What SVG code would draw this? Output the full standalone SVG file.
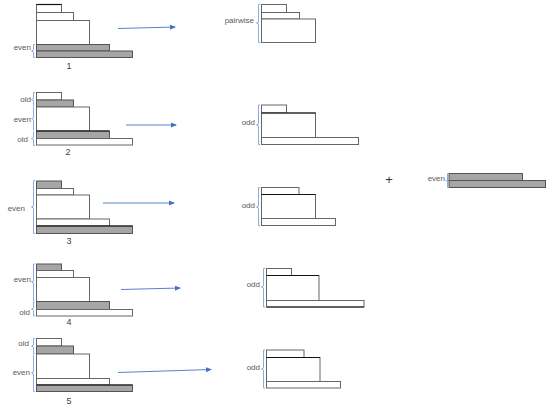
<svg xmlns="http://www.w3.org/2000/svg" width="554" height="412" viewBox="0 0 554 412">
<style>
.w{fill:#fff;stroke:#666;stroke-width:1}
.g{fill:#a6a6a6;stroke:#555;stroke-width:1}
.k{stroke:#111;stroke-width:1.2;fill:none}
.br{fill:none;stroke:#8faadc;stroke-width:1}
.t{font-family:"Liberation Sans",Arial,sans-serif;font-size:8px;fill:#595959}
.n{font-family:"Liberation Sans",Arial,sans-serif;font-size:9px;fill:#404040;text-anchor:middle}
.ar{stroke:#4472c4;stroke-width:0.9;fill:none;marker-end:url(#ah)}
</style>
<defs>
<marker id="ah" viewBox="0 0 6 6" refX="5" refY="3" markerWidth="6" markerHeight="6" markerUnits="userSpaceOnUse" orient="auto">
<path d="M0,0.5 L6,3 L0,5.5 Z" fill="#4472c4"/>
</marker>
</defs>

<g id="stack1">
<rect class="w" x="36.5" y="4.5" width="25" height="8"/>
<rect class="w" x="36.5" y="12.5" width="37" height="8"/>
<rect class="w" x="36.5" y="20.5" width="53" height="24"/>
<rect class="g" x="36.5" y="44.5" width="73" height="6.5"/>
<rect class="g" x="36.5" y="51" width="96" height="6.5"/>
<path class="k" d="M36.5,4.5 H61.5"/>
<path class="br" d="M35,44.5 H33.5 V50 L31.5,51 L33.5,52 V57.5 H35"/>
<text class="t" x="31" y="49.5" text-anchor="end">even</text>
<text class="n" x="69" y="69">1</text>
</g>

<g id="stack2">
<rect class="w" x="36.5" y="92.5" width="25" height="7.5"/>
<rect class="g" x="36.5" y="100" width="37" height="7"/>
<rect class="w" x="36.5" y="107" width="53" height="24"/>
<rect class="g" x="36.5" y="131" width="73" height="7.5"/>
<rect class="w" x="36.5" y="138.5" width="96" height="6.5"/>
<path class="k" d="M36.5,131 H109.5"/>
<path class="br" d="M35,92.5 H33.5 V98.5 L31.5,99.5 L33.5,100.5 V106.5 M33.5,107 V117.5 L31.5,118.5 L33.5,119.5 V130.5 M33.5,131.5 V137.5 L31.5,138.5 L33.5,139.5 V145.5 H35"/>
<text class="t" x="31" y="101.5" text-anchor="end">old</text>
<text class="t" x="31" y="121.5" text-anchor="end">even</text>
<text class="t" x="28" y="142" text-anchor="end">old</text>
<text class="n" x="68" y="155">2</text>
</g>

<g id="stack3">
<rect class="g" x="36.5" y="181" width="25" height="7.5"/>
<rect class="w" x="36.5" y="188.5" width="37" height="6.5"/>
<rect class="w" x="36.5" y="195" width="53" height="24"/>
<rect class="w" x="36.5" y="219" width="73" height="7"/>
<rect class="g" x="36.5" y="226" width="96" height="7.5"/>
<path class="k" d="M36.5,226 H132.5"/>
<path class="br" d="M35,180.5 H33.5 V206 L31.5,207 L33.5,208 V233.5 H35"/>
<text class="t" x="25" y="211" text-anchor="end">even</text>
<text class="n" x="69" y="244">3</text>
</g>

<g id="stack4">
<rect class="g" x="36.5" y="264" width="25" height="6.5"/>
<rect class="w" x="36.5" y="270.5" width="37" height="7"/>
<rect class="w" x="36.5" y="277.5" width="53" height="24"/>
<rect class="g" x="36.5" y="301.5" width="73" height="8"/>
<rect class="w" x="36.5" y="309.5" width="96" height="6.5"/>
<path class="br" d="M35,264 H33.5 V281 L31.5,282 L33.5,283 V301 M35,302 H33.5 V308 L31.5,309 L33.5,310 V316 H35"/>
<text class="t" x="31" y="282" text-anchor="end">even</text>
<text class="t" x="30" y="315" text-anchor="end">old</text>
<text class="n" x="69" y="325">4</text>
</g>

<g id="stack5">
<rect class="w" x="36.5" y="338.5" width="25" height="7.5"/>
<rect class="g" x="36.5" y="346" width="37" height="8"/>
<rect class="w" x="36.5" y="354" width="53" height="24.5"/>
<rect class="w" x="36.5" y="378.5" width="73" height="6.5"/>
<rect class="g" x="36.5" y="385" width="96" height="6.5"/>
<path class="k" d="M36.5,385 H132.5"/>
<path class="br" d="M35,338.5 H33.5 V345 L31.5,346 L33.5,347 V353.5 H35 M33.5,354.5 V372 L31.5,373 L33.5,374 V391.5 H35"/>
<text class="t" x="29" y="346" text-anchor="end">old</text>
<text class="t" x="30" y="375" text-anchor="end">even</text>
<text class="n" x="69" y="404">5</text>
</g>

<g id="result1">
<rect class="w" x="261.5" y="4.5" width="25" height="8"/>
<rect class="w" x="261.5" y="12.5" width="38" height="6.5"/>
<rect class="w" x="261.5" y="19" width="54" height="23.5"/>
<path class="br" d="M260,4.5 H258.5 V22 L256.5,23 L258.5,24 V42.5 H260"/>
<text class="t" x="254" y="23" text-anchor="end">pairwise</text>
</g>

<g id="result2">
<rect class="w" x="261.5" y="105" width="25" height="8"/>
<rect class="w" x="261.5" y="113" width="54" height="24.5"/>
<rect class="w" x="261.5" y="137.5" width="97" height="7"/>
<path class="k" d="M261.5,113 H315.5"/>
<path class="br" d="M260,105 H258.5 V124 L256.5,125 L258.5,126 V144.5 H260"/>
<text class="t" x="255" y="125" text-anchor="end">odd</text>
</g>

<g id="result3">
<rect class="w" x="261.5" y="187.5" width="37.5" height="7"/>
<rect class="w" x="261.5" y="194.5" width="54" height="24"/>
<rect class="w" x="261.5" y="218.5" width="74" height="7"/>
<path class="k" d="M261.5,194.5 H315.5"/>
<path class="br" d="M260,187.5 H258.5 V206 L256.5,207 L258.5,208 V225.5 H260"/>
<text class="t" x="255" y="208" text-anchor="end">odd</text>
</g>

<g id="result4">
<rect class="w" x="266.5" y="268.5" width="25" height="7"/>
<rect class="w" x="266.5" y="275.5" width="52.5" height="25"/>
<rect class="w" x="266.5" y="300.5" width="97.5" height="6.5"/>
<path class="k" d="M266.5,275.5 H319 M266.5,307 H364"/>
<path class="br" d="M265,268.5 H263.5 V286 L261.5,287 L263.5,288 V307 H265"/>
<text class="t" x="260" y="287" text-anchor="end">odd</text>
</g>

<g id="result5">
<rect class="w" x="266.5" y="350" width="37.5" height="7.5"/>
<rect class="w" x="266.5" y="357.5" width="53.5" height="24"/>
<rect class="w" x="266.5" y="381.5" width="74" height="6.5"/>
<path class="k" d="M266.5,357.5 H320"/>
<path class="br" d="M265,350 H263.5 V368 L261.5,369 L263.5,370 V388 H265"/>
<text class="t" x="260" y="370" text-anchor="end">odd</text>
</g>

<g id="plus">
<text x="389" y="184" font-family="Liberation Sans,Arial,sans-serif" font-size="13" fill="#333" text-anchor="middle">+</text>
</g>

<g id="evenpair">
<rect class="g" x="449" y="173.5" width="73.5" height="7"/>
<rect class="g" x="449" y="180.5" width="96.5" height="7"/>
<path class="br" d="M449,173.5 H447.5 V187.5 H449 M447.5,180 L445.5,181"/>
<text class="t" x="445" y="181" text-anchor="end">even</text>
</g>

<g id="connectors">
<path class="ar" d="M118,28.5 L175,27"/>
<path class="ar" d="M126,125 L176,125"/>
<path class="ar" d="M103,203 L174,203"/>
<path class="ar" d="M121,289.5 L180,288"/>
<path class="ar" d="M118,372.5 L211,369.5"/>
</g>
</svg>
